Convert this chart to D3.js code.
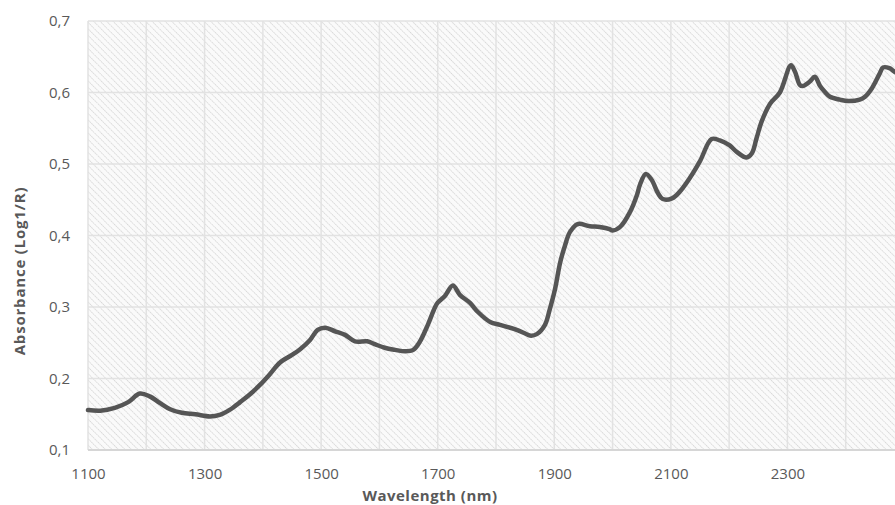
<!DOCTYPE html>
<html>
<head>
<meta charset="utf-8">
<script src="https://cdn.jsdelivr.net/npm/d3@7"></script>
<style>
  html, body { margin: 0; padding: 0; background: #fff; }
  svg { display: block; }
</style>
</head>
<body>
<svg id="chart" width="895" height="505"></svg>
<script>
// NIR spectrum: wavelength (nm) and absorbance log(1/R)
const wavelengths = [1100,1121,1146,1169,1189,1206,1223,1241,1261,1284,1309,1326,1343,1361,1378,1395,1412,1429,1450,1464,1481,1494,1507,1524,1541,1558,1579,1592,1609,1627,1644,1658,1669,1683,1695,1700,1712,1726,1738,1755,1769,1790,1807,1832,1850,1858,1870,1884,1892,1901,1910,1918,1927,1940,1961,1978,1995,2000,2013,2030,2042,2047,2057,2067,2078,2086,2102,2115,2133,2150,2170,2184,2201,2213,2230,2239,2247,2256,2270,2287,2306,2313,2321,2326,2338,2347,2356,2364,2373,2390,2404,2424,2433,2445,2458,2464,2475,2484,2500];
const absorbance = [0.156,0.155,0.159,0.167,0.179,0.175,0.166,0.157,0.152,0.150,0.147,0.149,0.156,0.167,0.178,0.191,0.206,0.222,0.233,0.241,0.254,0.268,0.271,0.266,0.261,0.252,0.252,0.248,0.243,0.240,0.238,0.240,0.251,0.275,0.299,0.306,0.315,0.330,0.317,0.306,0.293,0.279,0.275,0.269,0.263,0.260,0.262,0.275,0.296,0.324,0.362,0.385,0.405,0.416,0.413,0.412,0.409,0.407,0.412,0.433,0.457,0.471,0.486,0.478,0.459,0.451,0.452,0.461,0.481,0.504,0.535,0.533,0.526,0.517,0.509,0.515,0.536,0.560,0.584,0.600,0.638,0.629,0.611,0.609,0.615,0.622,0.609,0.601,0.594,0.590,0.588,0.590,0.594,0.606,0.626,0.635,0.634,0.629,0.622];

const xTicks = [1100,1300,1500,1700,1900,2100,2300];
const xGrid = [1100,1200,1300,1400,1500,1600,1700,1800,1900,2000,2100,2200,2300,2400,2500];
const yTicks = [0.1,0.2,0.3,0.4,0.5,0.6,0.7];

const svg = d3.select("#chart");
const plotLeft = 88, plotTop = 21, plotBottom = 450, plotRight = 904;

const x = d3.scaleLinear().domain([1100, 2500]).range([plotLeft, plotRight]);
const y = d3.scaleLinear().domain([0.1, 0.7]).range([plotBottom, plotTop]);

// diagonal hatch fill for the plot area
const defs = svg.append("defs");
const pat = defs.append("pattern")
  .attr("id", "hatch")
  .attr("patternUnits", "userSpaceOnUse")
  .attr("width", 4.6).attr("height", 4.6)
  .attr("patternTransform", "rotate(-45)");
pat.append("rect").attr("width", 4.6).attr("height", 4.6).attr("fill", "#fafafa");
pat.append("line")
  .attr("x1", 0).attr("y1", 0).attr("x2", 0).attr("y2", 4.6)
  .attr("stroke", "#cbcbcb").attr("stroke-width", 1.3)
  .attr("stroke-dasharray", "1.6 0.7");

svg.append("rect")
  .attr("x", plotLeft).attr("y", plotTop)
  .attr("width", plotRight - plotLeft).attr("height", plotBottom - plotTop)
  .attr("fill", "url(#hatch)");

// gridlines
svg.append("g").selectAll("line").data(xGrid).join("line")
  .attr("x1", d => x(d)).attr("x2", d => x(d))
  .attr("y1", plotTop).attr("y2", plotBottom)
  .attr("stroke", "#e2e2e2").attr("stroke-width", 1.5);

svg.append("g").selectAll("line").data(yTicks).join("line")
  .attr("x1", plotLeft).attr("x2", plotRight)
  .attr("y1", d => y(d)).attr("y2", d => y(d))
  .attr("stroke", d => d === 0.1 ? "#d6d6d6" : "#e2e2e2")
  .attr("stroke-width", d => d === 0.1 ? 2 : 1.5);

const fmt = d => d3.format(".1f")(d).replace(".", ",");
const font = "'Open Sans', 'Noto Sans', sans-serif";

// axes (labels only, lines come from the grid)
const yAxis = d3.axisLeft(y).tickValues(yTicks).tickFormat(fmt).tickSize(0).tickPadding(18);
const gy = svg.append("g").attr("transform", `translate(${plotLeft},0)`).call(yAxis);
gy.select(".domain").remove();
gy.selectAll("text").attr("fill", "#595959").style("font-family", font).style("font-size", "15px");

const xAxis = d3.axisBottom(x).tickValues(xTicks).tickFormat(d3.format("d")).tickSize(0).tickPadding(18);
const gx = svg.append("g").attr("transform", `translate(0,${plotBottom})`).call(xAxis);
gx.select(".domain").remove();
gx.selectAll("text").attr("fill", "#595959").style("font-family", font).style("font-size", "15px");

// spectrum line
const line = d3.line()
  .x((d, i) => x(wavelengths[i]))
  .y(d => y(d))
  .curve(d3.curveCatmullRom.alpha(0.5));

svg.append("path")
  .datum(absorbance)
  .attr("d", line)
  .attr("fill", "none")
  .attr("stroke", "#555555")
  .attr("stroke-width", 4.5)
  .attr("stroke-linejoin", "round")
  .attr("stroke-linecap", "round");

// axis titles
svg.append("text")
  .attr("x", 430).attr("y", 501)
  .attr("text-anchor", "middle")
  .attr("fill", "#595959")
  .style("font-family", font).style("font-size", "15px").style("font-weight", "bold")
  .style("letter-spacing", "0.5px")
  .text("Wavelength (nm)");

svg.append("text")
  .attr("transform", "translate(25,271) rotate(-90)")
  .attr("text-anchor", "middle")
  .attr("fill", "#595959")
  .style("font-family", font).style("font-size", "15px").style("font-weight", "bold")
  .style("letter-spacing", "0.8px")
  .text("Absorbance (Log1/R)");
</script>
</body>
</html>
